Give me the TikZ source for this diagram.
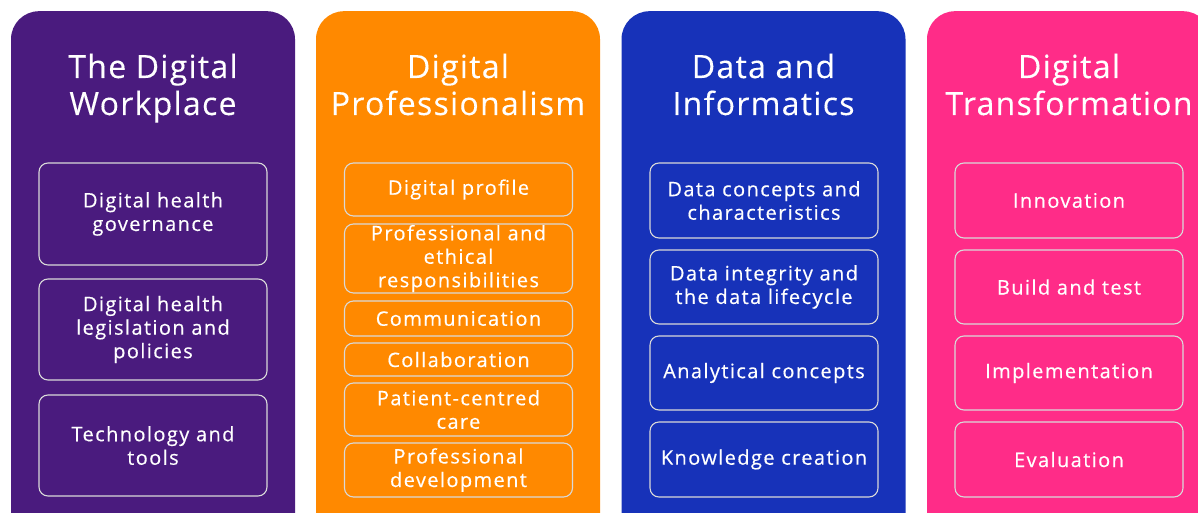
\documentclass[tikz,border=0pt]{standalone}
\usepackage{fontspec}
\setmainfont{Open Sans}
\newfontfamily\headfont[LetterSpace=4,FakeBold=0.2]{Open Sans}
\newfontfamily\topicfont[LetterSpace=7,FakeBold=0.4]{Open Sans}
\usepackage{tikz}
\usetikzlibrary{positioning}

\definecolor{workplace}{RGB}{74,27,126}
\definecolor{profession}{RGB}{255,137,0}
\definecolor{informatics}{RGB}{23,50,185}
\definecolor{transform}{RGB}{255,44,136}

\begin{document}
\begin{tikzpicture}[x=1pt,y=-1pt,
  lane/.style={rounded corners=28pt,minimum width=284pt,minimum height=560pt,anchor=north,inner sep=0pt},
  heading/.style={text=white,align=center,anchor=base,font=\headfont\fontsize{32}{37}\selectfont},
  topic/.style={draw=white!85!black,line width=1.1pt,rounded corners=9pt,text=white,align=center,
    text width=228pt,inner sep=0pt,outer sep=0pt,font=\topicfont\fontsize{20}{23.5}\selectfont},
  every node/.style={anchor=north}]

    \useasboundingbox (0,0) rectangle (1198,513);
    \clip (0,0) rectangle (1198,513);

    % the four lanes
    \node[lane,fill=workplace](wp) at (153,11) {};
    \node[lane,fill=profession](dp) at (458,11) {};
    \node[lane,fill=informatics](di) at (763.5,11) {};
    \node[lane,fill=transform](dt) at (1069,11) {};

    % headings (base = last line)
    \node[heading](wpT) at (153,115) {The Digital\\Workplace};
    \node[heading](dpT) at (458,115) {Digital\\Professionalism};
    \node[heading](diT) at (763.5,115) {Data and\\Informatics};
    \node[heading](dtT) at (1069,115) {Digital\\Transformation};

    % The Digital Workplace
    \node[topic,minimum height=102pt](wp1) at (153,163) {Digital health\\governance};
    \node[topic,minimum height=101pt,below=14pt of wp1](wp2) {Digital health\\legislation and\\policies};
    \node[topic,minimum height=101pt,below=15pt of wp2](wp3) {Technology and\\tools};

    % Digital Professionalism
    \node[topic,minimum height=53pt](dp1) at (458.5,163) {Digital profile};
    \node[topic,minimum height=69pt,below=8pt of dp1](dp2) {Professional and\\ethical\\responsibilities};
    \node[topic,minimum height=35pt,below=8pt of dp2](dp3) {Communication};
    \node[topic,minimum height=33pt,below=7pt of dp3](dp4) {Collaboration};
    \node[topic,minimum height=53pt,below=7pt of dp4](dp5) {Patient-centred\\care};
    \node[topic,minimum height=54pt,below=7pt of dp5](dp6) {Professional\\development};

    % Data and Informatics
    \node[topic,minimum height=75pt](di1) at (764,163) {Data concepts and\\characteristics};
    \node[topic,minimum height=74pt,below=12pt of di1](di2) {Data integrity and\\the data lifecycle};
    \node[topic,minimum height=74pt,below=12pt of di2](di3) {Analytical concepts};
    \node[topic,minimum height=75pt,below=12pt of di3](di4) {Knowledge creation};

    % Digital Transformation
    \node[topic,minimum height=75pt](dt1) at (1069,163) {Innovation};
    \node[topic,minimum height=74pt,below=12pt of dt1](dt2) {Build and test};
    \node[topic,minimum height=74pt,below=12pt of dt2](dt3) {Implementation};
    \node[topic,minimum height=75pt,below=12pt of dt3](dt4) {Evaluation};
\end{tikzpicture}
\end{document}
